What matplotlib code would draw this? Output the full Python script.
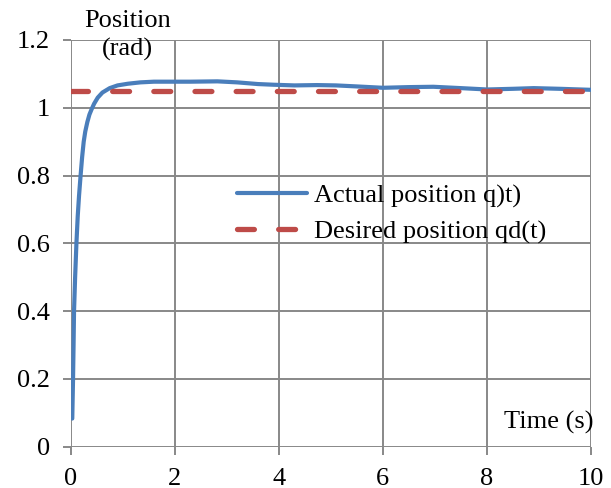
import numpy as np
import matplotlib
matplotlib.use('Agg')
import matplotlib.pyplot as plt

plt.rcParams['font.family'] = ['Liberation Serif', 'DejaVu Serif']

# valeurs
t = [0.03, 0.045, 0.055, 0.064, 0.085, 0.11, 0.135, 0.16, 0.19, 0.22, 0.25, 0.28, 0.32,
     0.36, 0.4, 0.45, 0.52, 0.61, 0.75, 0.9, 1.1, 1.34, 1.6, 1.86, 2.3, 2.82, 3.2, 3.6,
     3.9, 4.3, 4.73, 5.1, 5.5, 6.0, 6.5, 6.97, 7.5, 8.0, 8.5, 8.9, 9.4, 10.0]
q = [0.083, 0.2, 0.3, 0.4, 0.5, 0.6, 0.68, 0.74, 0.8, 0.855, 0.9, 0.93, 0.958,
     0.98, 0.995, 1.012, 1.03, 1.045, 1.058, 1.066, 1.071, 1.075, 1.077, 1.077, 1.077,
     1.078, 1.075, 1.07, 1.068, 1.066, 1.067, 1.066, 1.063, 1.059, 1.061, 1.062, 1.058,
     1.054, 1.056, 1.058, 1.056, 1.053]
t_d = [0, 10]
qd = [1.049, 1.049]

fig = plt.figure(figsize=(6.11, 4.88), dpi=100)
ax = fig.add_axes([70.7 / 611, 1 - 446.7 / 488, 520.3 / 611, 406.7 / 488])

ax.plot(t, q, color='#4a7ebb', lw=3, solid_capstyle='round', solid_joinstyle='round',
        label='Actual position q)t)')
ax.plot(t_d, qd, color='#be4b48', lw=3.8, ls=(0, (3.2, 4.6)), dash_capstyle='round',
        label='Desired position qd(t)')

ax.set_xlim(0, 10)
ax.set_ylim(0, 1.2)
ax.set_xticks(np.arange(0, 11, 2))
ax.set_yticks([0, 0.2, 0.4, 0.6, 0.8, 1, 1.2])
ax.set_yticklabels(['0', '0.2', '0.4', '0.6', '0.8', '1', '1.2'])
ax.grid(True, color='#888888', lw=1.4)
ax.set_axisbelow(True)
for s in ax.spines.values():
    s.set_visible(False)
ax.tick_params(axis='both', colors='#888888', labelcolor='black', labelsize=19,
               length=6, width=1.4, pad=9)

ax.text(0.11, 1.011, 'Position\n(rad)', transform=ax.transAxes, ha='center', va='center',
        fontsize=19, linespacing=1.3)
ax.text(1.004, 0.06, 'Time (s)', transform=ax.transAxes, ha='right', va='center', fontsize=19)

ax.legend(loc='center left', bbox_to_anchor=(0.32, 0.572), frameon=False, fontsize=19,
          handlelength=2.65, handletextpad=0.27, labelspacing=0.45,
          borderpad=0, borderaxespad=0)

fig.savefig('out.png', dpi=100)
